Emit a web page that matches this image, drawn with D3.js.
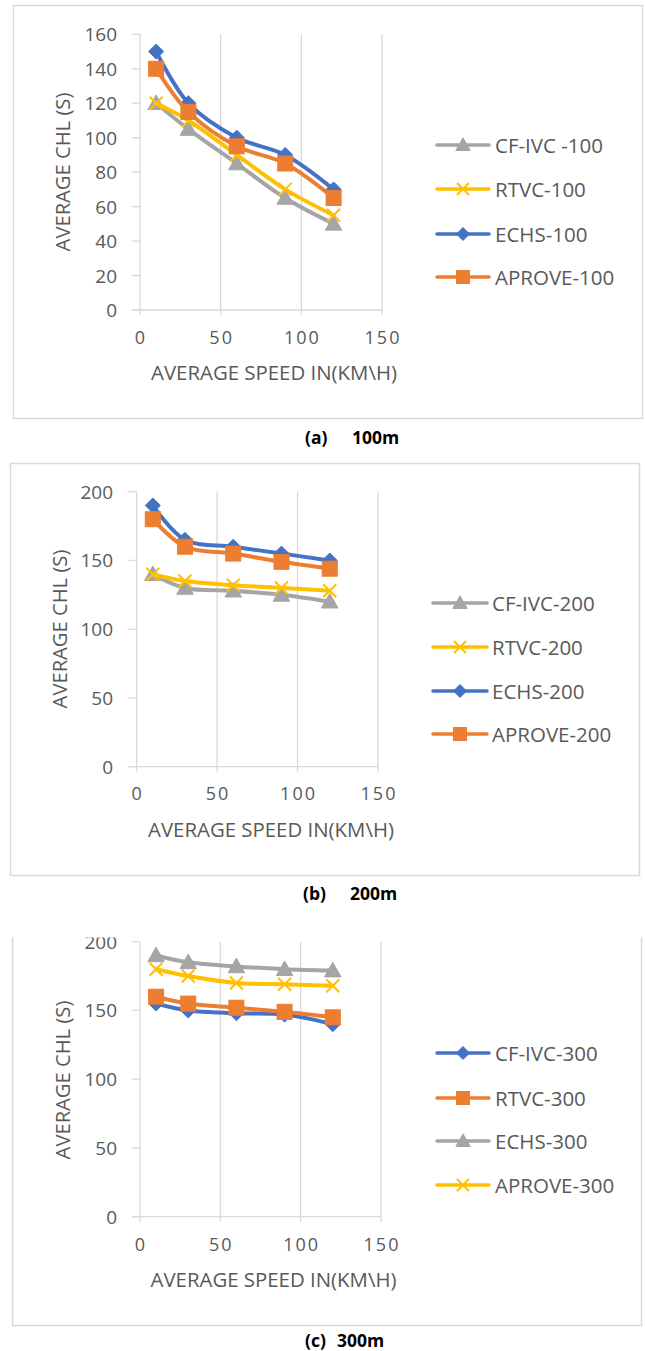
<!DOCTYPE html>
<html>
<head>
<meta charset="utf-8">
<script src="https://cdn.jsdelivr.net/npm/d3@7"></script>
<style>
  html, body { margin: 0; padding: 0; background: #fff; }
  svg { display: block; }
  text { font-family: "Open Sans", "DejaVu Sans", sans-serif; }
</style>
</head>
<body>
<svg id="chart" width="645" height="1351"></svg>
<script>
// ---------- DATA ----------
const speeds = [10, 30, 60, 90, 120];
const xTicks = [0, 50, 100, 150];

// (a) 100m
const namesA = ["CF-IVC -100", "RTVC-100", "ECHS-100", "APROVE-100"];
const cfivc100 = [120, 105, 85, 65, 50];
const rtvc100 = [120, 110, 90, 70, 55];
const echs100 = [150, 120, 100, 90, 70];
const aprove100 = [140, 115, 95, 85, 65];
const yTicksA = [0, 20, 40, 60, 80, 100, 120, 140, 160];

// (b) 200m
const namesB = ["CF-IVC-200", "RTVC-200", "ECHS-200", "APROVE-200"];
const cfivc200 = [140, 130, 128, 125, 120];
const rtvc200 = [140, 135, 132, 130, 128];
const echs200 = [190, 165, 160, 155, 150];
const aprove200 = [180, 160, 155, 149, 144];
const yTicksB = [0, 50, 100, 150, 200];

// (c) 300m
const namesC = ["CF-IVC-300", "RTVC-300", "ECHS-300", "APROVE-300"];
const cfivc300 = [155, 150, 148, 147, 140];
const rtvc300 = [160, 155, 152, 149, 145];
const echs300 = [190, 185, 182, 180, 179];
const aprove300 = [180, 175, 170, 169, 168];
const yTicksC = [0, 50, 100, 150, 200];

const captions = [["(a)", "100m"], ["(b)", "200m"], ["(c)", "300m"]];
const xTitle = "AVERAGE SPEED IN(KM\\H)";
const yTitle = "AVERAGE CHL (S)";

// ---------- STYLE ----------
const COL = { blue: "#4472C4", orange: "#ED7D31", gray: "#A5A5A5", yellow: "#FFC000" };
const TXT = "#595959", GRID = "#D9D9D9";

const panels = [
  {
    names: namesA, values: [cfivc100, rtvc100, echs100, aprove100],
    styles: [["gray", "triangle"], ["yellow", "x"], ["blue", "diamond"], ["orange", "square"]],
    yTicks: yTicksA, yMax: 160,
    box: [13, 5, 642, 418], clipTop: null,
    xr: [140, 382], yr: [310, 34.3],
    yLabRight: 117, xLabY: 337, xTitle: [274, 372], yTitle: [62, 172],
    legend: { lx0: 437, lx1: 489, tx: 495, rows: [145, 189, 234, 277] },
    cap: { a: 305, b: 352, y: 437 }
  },
  {
    names: namesB, values: [cfivc200, rtvc200, echs200, aprove200],
    styles: [["gray", "triangle"], ["yellow", "x"], ["blue", "diamond"], ["orange", "square"]],
    yTicks: yTicksB, yMax: 200,
    box: [10, 463, 639, 875], clipTop: null,
    xr: [136.7, 378], yr: [766.7, 491.7],
    yLabRight: 113, xLabY: 793, xTitle: [271, 829], yTitle: [59, 629],
    legend: { lx0: 433, lx1: 487, tx: 492, rows: [603, 647, 691, 734] },
    cap: { a: 303, b: 350, y: 893 }
  },
  {
    names: namesC, values: [cfivc300, rtvc300, echs300, aprove300],
    styles: [["blue", "diamond"], ["orange", "square"], ["gray", "triangle"], ["yellow", "x"]],
    yTicks: yTicksC, yMax: 200,
    box: [12, 925, 641, 1325], clipTop: 937.5,
    xr: [140, 381], yr: [1216.7, 941.7],
    yLabRight: 117, xLabY: 1244, xTitle: [273.5, 1279], yTitle: [62, 1080],
    legend: { lx0: 437, lx1: 489, tx: 495, rows: [1053, 1098, 1141, 1185] },
    cap: { a: 305, b: 337, y: 1340 }
  }
];

const svg = d3.select("#chart");

function drawMarker(g, shape, color, cx, cy, s) {
  if (shape === "triangle") {
    g.append("path")
      .attr("d", `M${cx},${cy - s * 0.55}L${cx + s * 0.55},${cy + s * 0.42}L${cx - s * 0.55},${cy + s * 0.42}Z`)
      .attr("fill", color).attr("stroke", color).attr("stroke-width", 1);
  } else if (shape === "diamond") {
    g.append("path")
      .attr("d", `M${cx},${cy - s / 2}L${cx + s / 2},${cy}L${cx},${cy + s / 2}L${cx - s / 2},${cy}Z`)
      .attr("fill", color).attr("stroke", color).attr("stroke-width", 1);
  } else if (shape === "square") {
    g.append("rect")
      .attr("x", cx - s / 2).attr("y", cy - s / 2).attr("width", s).attr("height", s)
      .attr("fill", color).attr("stroke", color).attr("stroke-width", 1);
  } else if (shape === "x") {
    const h = s / 2;
    g.append("path")
      .attr("d", `M${cx - h},${cy - h}L${cx + h},${cy + h}M${cx - h},${cy + h}L${cx + h},${cy - h}`)
      .attr("fill", "none").attr("stroke", color).attr("stroke-width", 2);
  }
}

panels.forEach((p, pi) => {
  const root = svg.append("g");
  let g = root;
  if (p.clipTop !== null) {
    svg.append("clipPath").attr("id", "clip" + pi)
      .append("rect").attr("x", 0).attr("y", p.clipTop).attr("width", 645).attr("height", 1351 - p.clipTop);
    g = root.append("g").attr("clip-path", `url(#clip${pi})`);
  }

  // frame
  g.append("rect")
    .attr("x", p.box[0] + 0.5).attr("y", p.box[1] + 0.5)
    .attr("width", p.box[2] - p.box[0]).attr("height", p.box[3] - p.box[1])
    .attr("fill", "#fff").attr("stroke", GRID).attr("stroke-width", 1.5);

  const x = d3.scaleLinear().domain([0, 150]).range(p.xr);
  const y = d3.scaleLinear().domain([0, p.yMax]).range(p.yr);

  // vertical gridlines (incl. x=0 axis line)
  g.append("g").selectAll("line").data(xTicks).join("line")
    .attr("x1", d => x(d)).attr("x2", d => x(d))
    .attr("y1", y(p.yMax)).attr("y2", y(0) + 5)
    .attr("stroke", GRID).attr("stroke-width", 1.3);

  // horizontal axis line at y=0
  g.append("line")
    .attr("x1", x(0) - 8).attr("x2", x(150)).attr("y1", y(0)).attr("y2", y(0))
    .attr("stroke", GRID).attr("stroke-width", 1.3);

  // y tick marks
  g.append("g").selectAll("line").data(p.yTicks).join("line")
    .attr("x1", x(0) - 8).attr("x2", x(0))
    .attr("y1", d => y(d)).attr("y2", d => y(d))
    .attr("stroke", GRID).attr("stroke-width", 1.3);

  // y tick labels
  g.append("g").selectAll("text").data(p.yTicks).join("text")
    .attr("x", p.yLabRight).attr("y", d => y(d))
    .attr("text-anchor", "end").attr("dominant-baseline", "central")
    .attr("font-size", 19).attr("fill", TXT)
    .text(d => d);

  // x tick labels
  g.append("g").selectAll("text").data(xTicks).join("text")
    .attr("x", d => x(d) + 1).attr("y", p.xLabY)
    .attr("text-anchor", "middle").attr("dominant-baseline", "central")
    .attr("font-size", 18).attr("letter-spacing", 2).attr("fill", TXT)
    .text(d => d);

  // axis titles
  g.append("text")
    .attr("x", p.xTitle[0]).attr("y", p.xTitle[1])
    .attr("text-anchor", "middle").attr("dominant-baseline", "central")
    .attr("font-size", 20.4).attr("fill", TXT).text(xTitle);
  g.append("text")
    .attr("transform", `translate(${p.yTitle[0]},${p.yTitle[1]}) rotate(-90)`)
    .attr("text-anchor", "middle").attr("dominant-baseline", "central")
    .attr("font-size", 20.2).attr("fill", TXT).text(yTitle);

  // series
  const line = d3.line().x(d => x(d[0])).y(d => y(d[1])).curve(d3.curveCatmullRom.alpha(0.5));
  p.values.forEach((vals, si) => {
    const [cname, shape] = p.styles[si];
    const color = COL[cname];
    const pts = speeds.map((s, i) => [s, vals[i]]);
    const sg = g.append("g");
    sg.append("path").attr("d", line(pts))
      .attr("fill", "none").attr("stroke", color).attr("stroke-width", 4)
      .attr("stroke-linejoin", "round").attr("stroke-linecap", "round");
    pts.forEach(d => drawMarker(sg, shape, color, x(d[0]), y(d[1]), shape === "x" ? 13 : 15));
  });

  // legend
  const L = p.legend;
  p.names.forEach((nm, si) => {
    const [cname, shape] = p.styles[si];
    const color = COL[cname];
    const ry = L.rows[si];
    g.append("line").attr("x1", L.lx0).attr("x2", L.lx1).attr("y1", ry).attr("y2", ry)
      .attr("stroke", color).attr("stroke-width", 3.5).attr("stroke-linecap", "round");
    drawMarker(g, shape, color, (L.lx0 + L.lx1) / 2, ry, shape === "x" ? 12 : 13);
    g.append("text").attr("x", L.tx).attr("y", ry)
      .attr("dominant-baseline", "central").attr("font-size", 20.5).attr("fill", TXT)
      .text(nm);
  });

  // caption
  const cap = captions[pi];
  [[p.cap.a, cap[0]], [p.cap.b, cap[1]]].forEach(([cx, t]) => {
    svg.append("text").attr("x", cx).attr("y", p.cap.y)
      .attr("dominant-baseline", "central")
      .attr("font-family", "'Liberation Sans', Arial, sans-serif")
      .attr("font-weight", "bold").attr("font-size", 17.5).attr("fill", "#000")
      .text(t);
  });
});
</script>
</body>
</html>
